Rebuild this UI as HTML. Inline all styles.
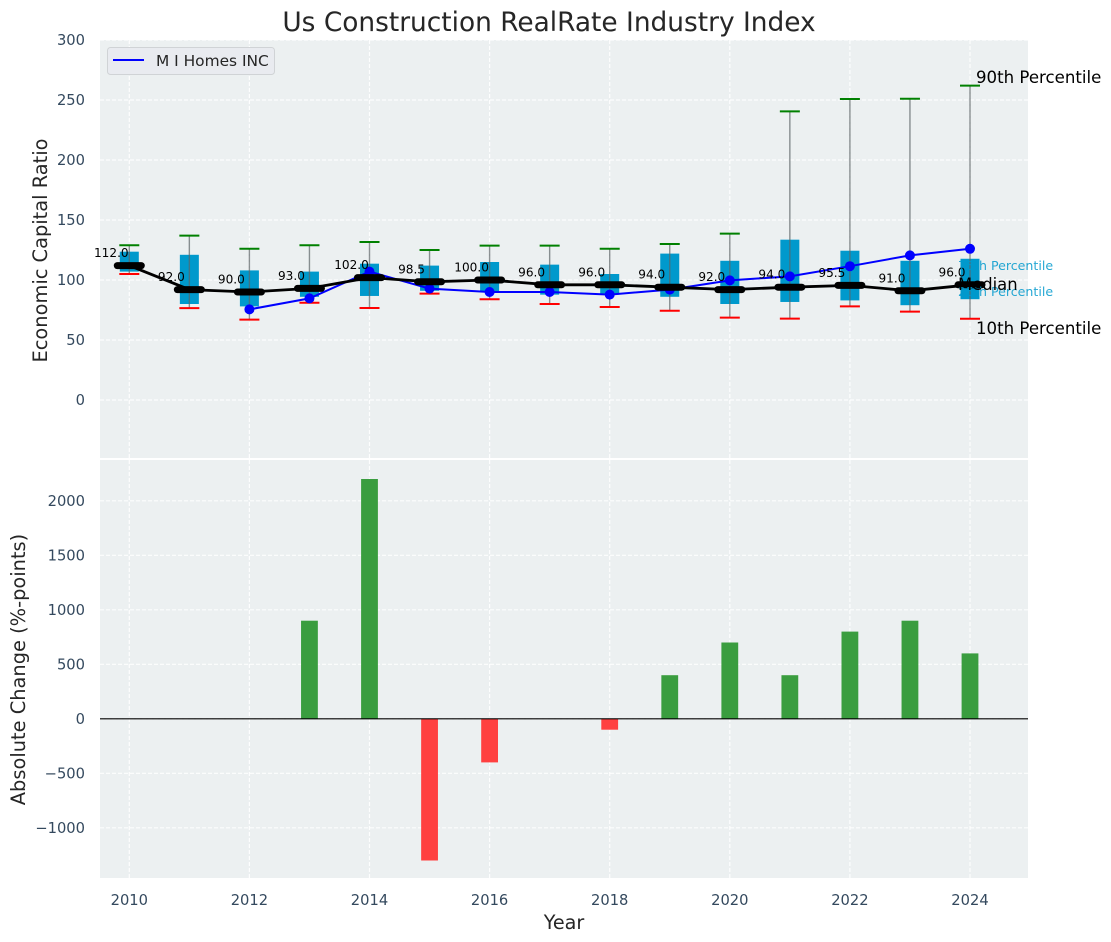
<!DOCTYPE html>
<html>
<head>
<meta charset="utf-8">
<style>
html,body{margin:0;padding:0;background:#fff;}
svg{display:block;font-family:"DejaVu Sans","Liberation Sans",sans-serif;}
</style>
</head>
<body>
<svg id="chart" xmlns="http://www.w3.org/2000/svg" width="1111" height="942" viewBox="0 0 1111 942">
  <text x="549" y="31" font-size="26.4" fill="#262626" text-anchor="middle">Us Construction RealRate Industry Index</text>
  <rect x="100" y="40" width="928" height="418" fill="#ecf0f1"/>
  <rect x="100" y="460" width="928" height="418" fill="#ecf0f1"/>
  <g id="grid"></g>
  <g id="ticks"></g>
  <g id="boxes"></g>
  <g id="company"></g>
  <g id="medians"></g>
  <g id="bars"></g>
  <line x1="100" x2="1028" y1="718.8" y2="718.8" stroke="#000" stroke-width="1.2"/>
  <g id="labels"></g>
  <text transform="translate(47,250.5) rotate(-90)" font-size="19.4" fill="#262626" text-anchor="middle">Economic Capital Ratio</text>
  <text transform="translate(25,669.5) rotate(-90)" font-size="19.4" fill="#262626" text-anchor="middle">Absolute Change (%-points)</text>
  <text x="564" y="929" font-size="19.2" fill="#262626" text-anchor="middle">Year</text>
  <g>
    <rect x="107.5" y="47.5" width="167" height="27" rx="3" fill="#e9ebf0" stroke="#d0d3d6" stroke-width="1"/>
    <line x1="113" x2="144" y1="60" y2="60" stroke="#0000ff" stroke-width="2"/>
    <text x="156" y="66" font-size="15.4" fill="#262626">M I Homes INC</text>
  </g>
  <text x="958" y="270" font-size="12.6" fill="#0099cc" fill-opacity="0.85">75th Percentile</text>
  <text x="958" y="296" font-size="12.6" fill="#0099cc" fill-opacity="0.85">25th Percentile</text>
  <text x="976" y="83" font-size="16.6" fill="#000">90th Percentile</text>
  <text x="958" y="290" font-size="16.4" fill="#000">Median</text>
  <text x="976" y="334" font-size="16.6" fill="#000">10th Percentile</text>
</svg>
<script>
const years = [2010,2011,2012,2013,2014,2015,2016,2017,2018,2019,2020,2021,2022,2023,2024];
const p90 = [129,137,126,129,131.7,125,128.6,128.6,126,130,138.6,240.5,250.8,251,262];
const p75 = [123.6,121,108,107,113.6,112,115,112.8,105,122,116,133.6,124.4,116,117.7];
const p25 = [107,80,78,86,86.7,91,90,87.8,87.8,86,80,81.7,83,79,84];
const p10 = [105,76.6,67,81,76.7,88.6,84,80,77.5,74.4,68.6,67.8,78,73.6,67.7];
const medianValues = [112,92,90,93,102,98.5,100,96,96,94,92,94,95.5,91,96];
const companyValues = [null,null,75.5,84.7,107,92.8,90,90,87.8,92,99.7,103,111.5,120.5,126];
const changeValues = [0,0,0,900,2200,-1300,-400,0,-100,400,700,400,800,900,600];
const topTicks = [0,50,100,150,200,250,300];
const bottomTicks = [-1000,-500,0,500,1000,1500,2000];
const xTicks = [2010,2012,2014,2016,2018,2020,2022,2024];

const NS = 'http://www.w3.org/2000/svg';
const x = v => 129.3 + (v - 2010) * 60.05;
const yTop = v => 400 - v * 1.2;
const yBottom = v => 718.8 - v * 0.109;

function mk(parent, tag, attrs, text) {
  const el = document.createElementNS(NS, tag);
  for (const k in attrs) el.setAttribute(k, attrs[k]);
  if (text !== undefined) el.textContent = text;
  document.getElementById(parent).appendChild(el);
  return el;
}

xTicks.forEach(t => {
  [[40,458],[460,878]].forEach(r => {
    const g = mk('grid','line',{x1:x(t),x2:x(t),y1:r[0],y2:r[1],stroke:'#fff','stroke-width':1.2,'stroke-dasharray':'4 2','stroke-opacity':0.9});
    
    
  });
  const l = mk('ticks','text',{x:x(t),y:905,'font-size':14.7,fill:'#34495e','text-anchor':'middle'},String(t));
  
  
});
topTicks.forEach(t => {
  const g = mk('grid','line',{x1:100,x2:1028,y1:yTop(t),y2:yTop(t),stroke:'#fff','stroke-width':1.2,'stroke-dasharray':'4 2','stroke-opacity':0.9});
  
  
  const l = mk('ticks','text',{x:85,y:yTop(t)+5,'font-size':14.7,fill:'#34495e','text-anchor':'end'},String(t));
  
  
});
bottomTicks.forEach(t => {
  const g = mk('grid','line',{x1:100,x2:1028,y1:yBottom(t),y2:yBottom(t),stroke:'#fff','stroke-width':1.2,'stroke-dasharray':'4 2','stroke-opacity':0.9});
  
  
  const l = mk('ticks','text',{x:85,y:yBottom(t)+5,'font-size':14.7,fill:'#34495e','text-anchor':'end'},String(t).replace('-','\u2212'));
  
  
});

years.forEach((yr,i) => {
  const cx = x(yr);
  const b = mk('boxes','rect',{x:cx-9.5,y:yTop(p75[i]),width:19,height:yTop(p25[i])-yTop(p75[i]),fill:'#0099cc'});
  
  
  const w = mk('boxes','line',{x1:cx,x2:cx,y1:yTop(p90[i]),y2:yTop(p10[i]),stroke:'#5c6466','stroke-width':1.4,'stroke-opacity':0.7});
  
  
  const hi = mk('boxes','line',{x1:cx-10,x2:cx+10,y1:yTop(p90[i]),y2:yTop(p90[i]),stroke:'#008000','stroke-width':2});
  
  
  const lo = mk('boxes','line',{x1:cx-10,x2:cx+10,y1:yTop(p10[i]),y2:yTop(p10[i]),stroke:'#ff0000','stroke-width':2});
  
  
});

const companyPts = years.map((yr,i) => companyValues[i] === null ? null : [x(yr), yTop(companyValues[i])]).filter(Boolean);
const cl = mk('company','polyline',{points:companyPts.map(p => p.join(',')).join(' '),fill:'none',stroke:'#0000ff','stroke-width':2});


companyPts.forEach(p => {
  const c = mk('company','circle',{cx:p[0],cy:p[1],r:5,fill:'#0000ff'});
  
  
});

const ml = mk('medians','polyline',{points:years.map((yr,i) => x(yr)+','+yTop(medianValues[i])).join(' '),fill:'none',stroke:'#000','stroke-width':2.8});


years.forEach((yr,i) => {
  const s = mk('medians','line',{x1:x(yr)-12,x2:x(yr)+12,y1:yTop(medianValues[i]),y2:yTop(medianValues[i]),stroke:'#000','stroke-width':7,'stroke-linecap':'round'});
  
  
  const t = mk('labels','text',{x:x(yr)-18,y:yTop(medianValues[i])-8.5,'font-size':12.1,fill:'#000','text-anchor':'middle'},medianValues[i].toFixed(1));
  
  
});

years.forEach((yr,i) => {
  const v = changeValues[i];
  if (v === 0) return;
  const y0 = yBottom(Math.max(v,0)), y1 = yBottom(Math.min(v,0));
  const r = mk('bars','rect',{x:x(yr)-8.4,y:y0,width:16.8,height:y1-y0,fill:v > 0 ? '#3a9d3f' : '#ff4040'});
  
  
});
</script>
</body>
</html>
